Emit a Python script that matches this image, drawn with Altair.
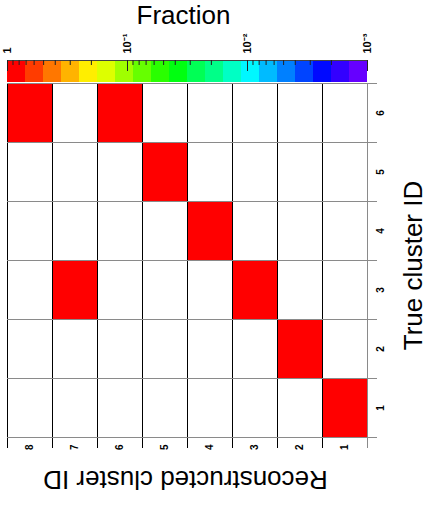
import altair as alt
import numpy as np
import pandas as pd

# ---------------- data ----------------
true_ids = [1, 2, 3, 4, 5, 6]
recon_ids = [1, 2, 3, 4, 5, 6, 7, 8]
# fraction[true cluster][reconstructed cluster]
fractions = [
    [1, 0, 0, 0, 0, 0, 0, 0],  # true 1
    [0, 1, 0, 0, 0, 0, 0, 0],  # true 2
    [0, 0, 1, 0, 0, 0, 1, 0],  # true 3
    [0, 0, 0, 1, 0, 0, 0, 0],  # true 4
    [0, 0, 0, 0, 1, 0, 0, 0],  # true 5
    [0, 0, 0, 0, 0, 1, 0, 1],  # true 6
]
cbar_labels_at = [1, 0.1, 0.01, 0.001]
cbar_minor_at = [0.9, 0.8, 0.7, 0.6, 0.5, 0.4, 0.3, 0.2,
                 0.09, 0.08, 0.07, 0.06, 0.05, 0.04, 0.03, 0.02,
                 0.009, 0.008, 0.007, 0.006, 0.005, 0.004, 0.003, 0.002]
palette = ["#FF0000", "#FF3C00", "#FF7700", "#FFB300", "#FFEE00",
           "#DDFF00", "#A0FF00", "#66FF00", "#2AFF00", "#00FF10",
           "#00FF55", "#00FF88", "#00FFC4", "#00F7FF", "#00BBFF",
           "#0080FF", "#0044FF", "#0009FF", "#3300FF", "#6600FF"]

# ---------------- tables ----------------
cells = pd.DataFrame([
    {"true": t, "recon": r, "fraction": fractions[i][j]}
    for i, t in enumerate(true_ids) for j, r in enumerate(recon_ids)
])
cells = cells[cells["fraction"] > 0].reset_index(drop=True)

n_bands = len(palette)
edges = np.logspace(0, -3, n_bands + 1)
bands = pd.DataFrame({"hi": edges[:-1], "lo": edges[1:],
                      "mid": np.sqrt(edges[:-1] * edges[1:])})
thresholds = sorted(edges[1:-1].tolist())
color_scale = alt.Scale(type="threshold", domain=thresholds, range=palette[::-1])

vbounds = pd.DataFrame({"b": [r - 0.5 for r in recon_ids] + [max(recon_ids) + 0.5]})
hbounds = pd.DataFrame({"b": [t - 0.5 for t in true_ids] + [max(true_ids) + 0.5]})
major = pd.DataFrame({"v": cbar_labels_at})
minor = pd.DataFrame({"v": cbar_minor_at})

# ---------------- layout ----------------
W, H = 360, 377
HM_TOP = 23
CB_H = 22
FONT = "Liberation Sans"

xs = alt.Scale(domain=[min(recon_ids) - 0.5, max(recon_ids) + 0.5], reverse=True, nice=False, zero=False)
ys = alt.Scale(domain=[min(true_ids) - 0.5, max(true_ids) + 0.5], range=[H, HM_TOP], nice=False, zero=False)
cs = alt.Scale(type="log", domain=[0.001, 1], reverse=True, nice=False)

x_axis = alt.Axis(orient="bottom", values=recon_ids, ticks=False, domain=False, grid=False,
                  labelAngle=270, labelAlign="right", labelBaseline="middle", labelPadding=7,
                  labelFont=FONT, labelFontWeight="bold", labelFontSize=10, labelColor="black",
                  labelFlush=False, labelOverlap=False,
                  title="Reconstructed cluster ID", titleFont=FONT, titleFontSize=26,
                  titleFontWeight="normal", titleColor="black", titleAngle=180,
                  titleX=178, titleY=33, titleAlign="center", titleBaseline="alphabetic")
y_axis = alt.Axis(orient="right", values=true_ids, ticks=False, domain=False, grid=False,
                  labelAngle=270, labelAlign="center", labelBaseline="top", labelPadding=8,
                  labelFont=FONT, labelFontWeight="bold", labelFontSize=10, labelColor="black",
                  labelFlush=False, labelOverlap=False,
                  title="True cluster ID", titleFont=FONT, titleFontSize=26,
                  titleFontWeight="normal", titleColor="black", titleAngle=270,
                  titleX=54, titleY=205, titleAlign="center", titleBaseline="alphabetic")
c_axis = alt.Axis(orient="top", values=cbar_labels_at, ticks=False, domain=False, grid=False,
                  labelExpr="datum.value >= 0.5 ? '1' : datum.value >= 0.05 ? '10⁻¹' : datum.value >= 0.005 ? '10⁻²' : '10⁻³'",
                  labelAngle=270, labelAlign="left", labelBaseline="middle", labelPadding=7,
                  labelFont=FONT, labelFontWeight="bold", labelFontSize=11, labelColor="black",
                  labelFlush=False, labelOverlap=False,
                  title="Fraction", titleFont=FONT, titleFontSize=26,
                  titleFontWeight="normal", titleColor="black",
                  titleX=176, titleY=-37, titleAlign="center", titleBaseline="alphabetic")

# ---------------- heatmap ----------------
cell_layer = alt.Chart(cells).transform_calculate(
    x0="datum.recon - 0.5", x1="datum.recon + 0.5",
    y0="datum.true - 0.5", y1="datum.true + 0.5",
).mark_rect().encode(
    x=alt.X("x0:Q", scale=xs, axis=x_axis),
    x2="x1:Q",
    y=alt.Y("y0:Q", scale=ys, axis=y_axis),
    y2="y1:Q",
    color=alt.Color("fraction:Q", scale=color_scale, legend=None),
)

hlines = alt.Chart(hbounds).mark_rule(color="#8a8a8a", strokeWidth=1, yOffset=0.5).encode(
    y=alt.Y("b:Q", scale=ys, axis=y_axis),
    x=alt.XDatum(max(recon_ids) + 0.5, scale=xs, axis=x_axis),
    x2=alt.value(W + 10),
)
vlines = alt.Chart(vbounds).mark_rule(strokeWidth=1, xOffset=0.5).encode(
    x=alt.X("b:Q", scale=xs, axis=x_axis),
    y=alt.YDatum(max(true_ids) + 0.5, scale=ys, axis=y_axis),
    y2=alt.value(H + 11),
    color=alt.condition("datum.b == 0.5", alt.value("#8a8a8a"), alt.value("black")),
)

heat = alt.layer(cell_layer, vlines, hlines)

# ---------------- colour bar ----------------
band_layer = alt.Chart(bands).mark_rect().encode(
    x=alt.X("lo:Q", scale=cs, axis=c_axis),
    x2="hi:Q",
    y=alt.value(0),
    y2=alt.value(CB_H),
    color=alt.Color("mid:Q", scale=color_scale, legend=None),
)
cb_border = alt.Chart(major).mark_rule(color="#444444", strokeWidth=1, yOffset=0.5).encode(
    x=alt.XDatum(1, scale=cs, axis=c_axis),
    x2=alt.X2Datum(0.001),
    y=alt.value(0),
)
major_ticks = alt.Chart(major).mark_rule(color="#222222", strokeWidth=1, xOffset=0.5).encode(
    x=alt.X("v:Q", scale=cs, axis=c_axis),
    y=alt.value(0),
    y2=alt.value(11),
)
minor_ticks = alt.Chart(minor).mark_rule(color="#222222", strokeWidth=1, xOffset=0.5).encode(
    x=alt.X("v:Q", scale=cs, axis=c_axis),
    y=alt.value(0),
    y2=alt.value(5),
)
cbar = alt.layer(band_layer, cb_border, major_ticks, minor_ticks)

chart = alt.layer(cbar, heat).resolve_scale(x="independent").properties(
    width=W, height=H,
    autosize=alt.AutoSizeParams(type="none"),
    padding={"left": 7, "top": 60, "right": 60, "bottom": 71},
    background="white",
).configure_view(stroke=None)

chart.save("out.html", embed_options={"renderer": "svg", "actions": False})
